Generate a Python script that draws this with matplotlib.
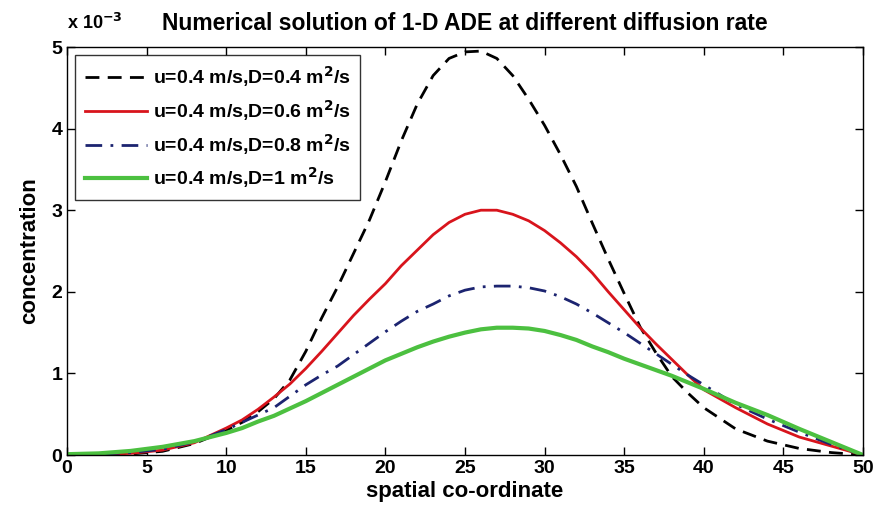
import matplotlib
matplotlib.use('Agg')
import matplotlib.pyplot as plt

plt.rcParams['font.family'] = ['Liberation Sans', 'DejaVu Sans']
plt.rcParams['font.weight'] = 'bold'

# spatial co-ordinate
x = [0, 2, 4, 6, 8, 10, 11, 12, 13, 14, 15, 16, 17, 18, 19, 20, 21, 22, 23, 24, 25,
     26, 27, 28, 29, 30, 31, 32, 33, 34, 35, 36, 37, 38, 39, 40, 42, 44, 46, 48, 50]

# concentration (x 10^-3)
c_d04 = [0.0, 0.003, 0.012, 0.045, 0.14, 0.30, 0.40, 0.53, 0.69, 0.92, 1.27, 1.68, 2.06, 2.47,
         2.88, 3.35, 3.85, 4.30, 4.65, 4.86, 4.94, 4.95, 4.86, 4.65, 4.36, 4.04, 3.68, 3.29,
         2.84, 2.40, 1.98, 1.57, 1.25, 0.96, 0.76, 0.58, 0.32, 0.17, 0.08, 0.03, 0.0]
c_d06 = [0.0, 0.005, 0.02, 0.06, 0.15, 0.33, 0.43, 0.56, 0.71, 0.87, 1.06, 1.27, 1.49, 1.71,
         1.91, 2.10, 2.32, 2.51, 2.70, 2.85, 2.95, 3.0, 3.0, 2.95, 2.87, 2.75, 2.60, 2.43,
         2.23, 2.00, 1.78, 1.56, 1.36, 1.17, 0.98, 0.80, 0.58, 0.38, 0.22, 0.11, 0.0]
c_d08 = [0.0, 0.01, 0.03, 0.07, 0.16, 0.31, 0.40, 0.49, 0.58, 0.72, 0.86, 0.98, 1.09, 1.23,
         1.37, 1.51, 1.64, 1.76, 1.85, 1.95, 2.02, 2.06, 2.07, 2.07, 2.05, 2.01, 1.94, 1.85,
         1.74, 1.62, 1.50, 1.37, 1.24, 1.11, 0.98, 0.86, 0.62, 0.44, 0.28, 0.13, 0.0]
c_d10 = [0.01, 0.02, 0.05, 0.10, 0.17, 0.27, 0.33, 0.41, 0.48, 0.57, 0.66, 0.76, 0.86, 0.96,
         1.06, 1.16, 1.24, 1.32, 1.39, 1.45, 1.50, 1.54, 1.56, 1.56, 1.55, 1.52, 1.47, 1.41,
         1.33, 1.26, 1.18, 1.11, 1.04, 0.97, 0.89, 0.81, 0.64, 0.49, 0.32, 0.16, 0.0]

labels = ['u=0.4 m/s,D=0.4 m$^\\mathbf{2}$/s', 'u=0.4 m/s,D=0.6 m$^\\mathbf{2}$/s',
          'u=0.4 m/s,D=0.8 m$^\\mathbf{2}$/s', 'u=0.4 m/s,D=1 m$^\\mathbf{2}$/s']

fig = plt.figure(figsize=(8.77, 5.2), dpi=100)
ax = fig.add_axes([0.0764, 0.125, 0.9076, 0.7846])

ax.plot(x, c_d04, color='black', linestyle=(0, (5, 3)), linewidth=2, label=labels[0])
ax.plot(x, c_d06, color='#d8141c', linestyle='-', linewidth=2, label=labels[1])
ax.plot(x, c_d08, color='#1c2470', linestyle=(0, (6, 3, 1, 3)), linewidth=2, label=labels[2])
ax.plot(x, c_d10, color='#4cc040', linestyle='-', linewidth=3, label=labels[3])

ax.set_xlim(0, 50)
ax.set_ylim(0, 5)
ax.set_xticks(range(0, 51, 5))
ax.set_yticks(range(0, 6))
ax.tick_params(direction='in', top=True, right=True, length=6, labelsize=14, width=1)
for s in ax.spines.values():
    s.set_linewidth(1)

ax.set_title('Numerical solution of 1-D ADE at different diffusion rate',
             fontsize=16.5, fontweight='bold', pad=12)
ax.set_xlabel('spatial co-ordinate', fontsize=16, fontweight='bold', labelpad=3)
ax.set_ylabel('concentration', fontsize=16, fontweight='bold', labelpad=8)
ax.text(0.0, 1.035, 'x 10$^{\\mathbf{-3}}$', transform=ax.transAxes, fontsize=13,
        fontweight='bold', ha='left', va='bottom')

leg = ax.legend(loc='upper left', fontsize=14, handlelength=3.2, frameon=True,
                fancybox=False, borderaxespad=0.4, labelspacing=0.45, borderpad=0.5,
                handletextpad=0.3)
leg.get_frame().set_edgecolor('black')
leg.get_frame().set_linewidth(1)

fig.savefig('out.png', dpi=100)
